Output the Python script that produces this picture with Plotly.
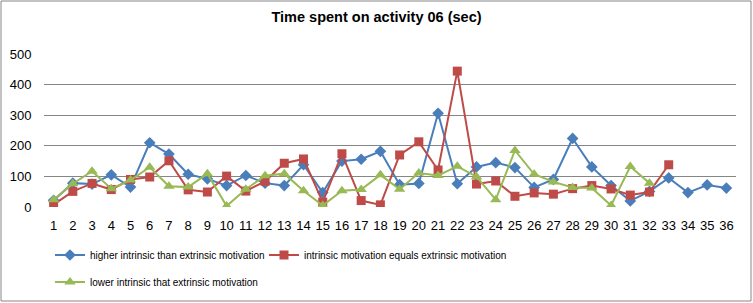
import plotly.graph_objects as go

categories = list(range(1, 37))
higher = [22, 78, 75, 105, 65, 210, 173, 107, 92, 70, 103, 78, 70, 138, 47, 150, 156, 182,
          73, 77, 306, 76, 131, 145, 129, 64, 90, 224, 131, 70, 20, 51, 95, 47, 72, 62]
equals = [8, 51, 77, 57, 90, 98, 151, 56, 49, 101, 52, 84, 143, 157, 16, 174, 21, 7,
          170, 213, 121, 444, 75, 85, 35, 46, 42, 60, 70, 59, 39, 49, 138]
lower = [24, 76, 117, 60, 88, 130, 68, 65, 109, 3, 58, 102, 109, 53, 5, 53, 57, 105,
         58, 111, 103, 133, 99, 24, 185, 107, 82, 64, 62, 5, 132, 78]
names = ["higher intrinsic than extrinsic motivation",
         "intrinsic motivation equals extrinsic motivation",
         "lower intrinsic that extrinsic motivation"]
y_ticks = [0, 100, 200, 300, 400, 500]

W, H = 753, 303
L, R, T, B = 44, 17, 54, 96
font = "Liberation Sans, Arial"

pw = W - L - R
ph = H - T - B


def px_x(px):
    return (px - L) / pw


def px_y(py):
    return (H - B - py) / ph


fig = go.Figure()
fig.add_trace(go.Scatter(x=categories[:len(higher)], y=higher, name=names[0], mode="lines+markers",
                         line=dict(color="#4A7EBB", width=2),
                         marker=dict(symbol="diamond", size=9, color="#4A7EBB"), legend="legend2"))
fig.add_trace(go.Scatter(x=categories[:len(equals)], y=equals, name=names[1], mode="lines+markers",
                         line=dict(color="#BE4B48", width=2),
                         marker=dict(symbol="square", size=9, color="#BE4B48"), legend="legend3"))
fig.add_trace(go.Scatter(x=categories[:len(lower)], y=lower, name=names[2], mode="lines+markers",
                         line=dict(color="#98B954", width=2),
                         marker=dict(symbol="triangle-up", size=10, color="#98B954"), legend="legend4"))

fig.add_shape(type="rect", xref="paper", yref="paper",
              x0=px_x(1), x1=px_x(W - 2), y0=px_y(H - 2), y1=px_y(1),
              line=dict(color="#868686", width=1), layer="below")

leg = dict(orientation="h", xanchor="left", yanchor="middle",
           font=dict(size=10, family=font), itemwidth=30, bgcolor="rgba(0,0,0,0)")

fig.update_layout(
    width=W, height=H, margin=dict(l=L, r=R, t=T, b=B, autoexpand=False),
    paper_bgcolor="white", plot_bgcolor="white",
    font=dict(family=font, size=12, color="#000000"),
    title=dict(text="<b>Time spent on activity 06 (sec)</b>", x=0.5, xref="container", xanchor="center",
               y=1 - 17 / H, yanchor="middle", font=dict(size=14.5, family=font)),
    xaxis=dict(range=[0.5, 36.5], tickmode="array", tickvals=categories, ticktext=[str(c) for c in categories],
               showgrid=False, zeroline=False, showline=False, ticks="outside", ticklen=6,
               tickcolor="rgba(0,0,0,0)", tickfont=dict(size=13)),
    yaxis=dict(range=[0, 500], tickmode="array", tickvals=y_ticks, showgrid=True, gridcolor="#868686",
               gridwidth=1, zeroline=False, showline=False, ticks="outside", ticklen=9,
               tickcolor="rgba(0,0,0,0)", tickfont=dict(size=13)),
    legend2=dict(leg, x=px_x(50), y=px_y(255)),
    legend3=dict(leg, x=px_x(264), y=px_y(255)),
    legend4=dict(leg, x=px_x(50), y=px_y(282)),
)

fig.write_html("out.html", config={"displayModeBar": False},
               post_script="document.body.style.margin='0';")
